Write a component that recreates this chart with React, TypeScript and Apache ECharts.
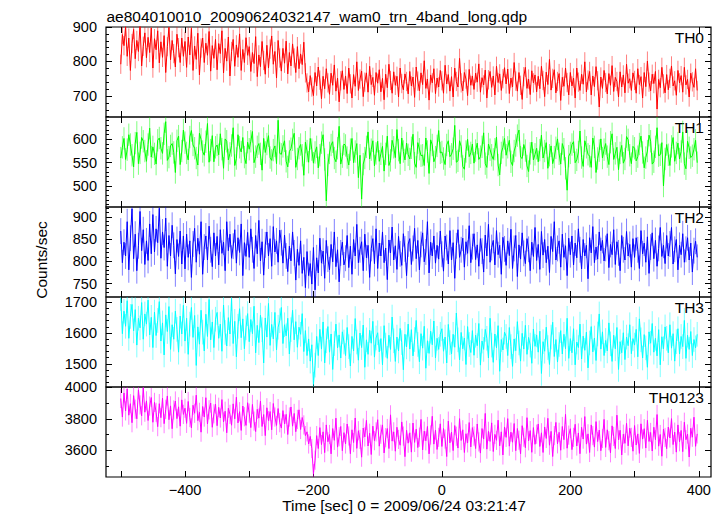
import React, { useEffect, useRef } from 'react';
import * as echarts from 'echarts';

// Time bins (sec) : t = T0 + DT * index
const T0 = -500;
const DT = 2.5;

const X_MIN = -523;
const X_MAX = 419;
const X_TICKS = [-500, -400, -300, -200, -100, 0, 100, 200, 300, 400];
const X_LABELS = [-400, -200, 0, 200, 400];

// Counts/sec (one row = 50 s)
const th0 = [
  792, 878, 846, 901, 815, 868, 774, 852, 893, 808, 861, 829, 906, 787, 844, 883, 811, 870, 826, 897,
  781, 866, 834, 889, 796, 857, 812, 875, 768, 843, 899, 805, 861, 823, 784, 879, 840, 797, 868, 815,
  858, 783, 871, 819, 896, 774, 845, 806, 882, 761, 839, 868, 797, 853, 818, 887, 772, 846, 809, 864,
  776, 852, 823, 889, 767, 838, 801, 871, 758, 829, 864, 786, 848, 812, 880, 774, 835, 797, 869, 818,
  843, 771, 826, 794, 872, 756, 819, 785, 858, 803, 763, 847, 781, 836, 874, 792, 829, 752, 861, 810,
  772, 838, 795, 859, 764, 826, 787, 851, 810, 768, 843, 779, 822, 791, 856, 767, 738, 712, 759, 726,
  701, 768, 729, 784, 746, 692, 757, 721, 779, 738, 705, 766, 731, 790, 714, 752, 683, 744, 773, 719,
  758, 707, 781, 735, 694, 762, 728, 799, 716, 749, 772, 698, 740, 767, 711, 786, 733, 754, 702, 768,
  737, 776, 712, 751, 689, 763, 724, 792, 745, 708, 770, 731, 757, 697, 781, 736, 718, 764, 742, 706,
  771, 729, 755, 696, 784, 743, 715, 767, 733, 802, 722, 749, 688, 761, 738, 779, 707, 752, 726, 774,
  744, 708, 789, 735, 762, 714, 756, 697, 781, 742, 726, 809, 738, 715, 768, 749, 701, 777, 731, 758,
  719, 766, 740, 793, 711, 753, 732, 775, 694, 747, 771, 725, 758, 703, 786, 739, 764, 716, 750, 782,
  735, 778, 707, 752, 726, 797, 743, 714, 768, 731, 690, 756, 783, 722, 749, 704, 773, 738, 761, 712,
  757, 721, 786, 745, 698, 769, 733, 806, 717, 751, 776, 709, 742, 765, 687, 754, 728, 781, 739, 703,
  768, 729, 752, 694, 781, 740, 716, 763, 734, 799, 712, 746, 771, 703, 758, 727, 785, 744, 668, 755,
  722, 774, 739, 706, 765, 731, 788, 713, 754, 742, 697, 770, 726, 761, 709, 792, 737, 750, 716, 767,
  745, 708, 779, 733, 756, 694, 768, 727, 801, 740, 715, 763, 736, 771, 662, 748, 724, 783, 735, 709,
  762, 718, 751, 787, 729, 744, 702, 774, 738, 759, 711, 783, 732, 748, 697, 766, 741, 725, 779, 716,
];
const th1 = [
  560, 583, 602, 557, 578, 610, 589, 566, 541, 592, 615, 548, 571, 604, 596, 575, 553, 589, 624, 562,
  584, 569, 547, 598, 603, 581, 570, 612, 638, 555, 562, 586, 591, 572, 529, 597, 607, 546, 575, 620,
  593, 571, 556, 605, 619, 588, 581, 560, 545, 613, 600, 574, 566, 595, 634, 551, 577, 608, 552, 583,
  588, 567, 612, 579, 538, 601, 596, 556, 570, 587, 625, 544, 559, 610, 583, 573, 604, 562, 548, 594,
  579, 596, 617, 550, 563, 584, 591, 569, 534, 602, 572, 590, 608, 561, 555, 577, 586, 548, 641, 570,
  568, 585, 597, 553, 541, 574, 580, 599, 613, 540, 558, 581, 589, 566, 523, 594, 575, 551, 602, 578,
  549, 572, 584, 539, 566, 593, 610, 557, 468, 545, 571, 588, 595, 560, 552, 581, 628, 547, 563, 590,
  587, 561, 545, 578, 602, 550, 574, 591, 518, 566, 472, 547, 560, 584, 616, 558, 578, 597, 543, 570,
  596, 553, 569, 585, 532, 569, 607, 544, 555, 598, 583, 561, 621, 577, 548, 603, 574, 556, 592, 567,
  558, 582, 611, 549, 540, 593, 579, 565, 566, 544, 603, 574, 527, 599, 588, 552, 562, 586, 619, 571,
  573, 559, 546, 588, 597, 563, 568, 580, 630, 551, 554, 597, 585, 542, 536, 574, 600, 563, 571, 590,
  549, 576, 592, 557, 563, 584, 614, 548, 540, 590, 578, 566, 557, 579, 605, 545, 524, 571, 583, 602,
  566, 583, 598, 552, 544, 575, 587, 608, 620, 562, 559, 589, 576, 543, 531, 570, 594, 556, 568, 581,
  552, 577, 609, 560, 575, 593, 538, 566, 586, 548, 562, 582, 601, 569, 547, 591, 579, 538, 491, 564,
  571, 589, 595, 550, 556, 573, 618, 561, 542, 597, 583, 568, 564, 540, 603, 584, 529, 559, 576, 601,
  560, 578, 591, 563, 546, 594, 612, 557, 570, 583, 535, 571, 587, 549, 558, 606, 599, 566, 548, 585,
  581, 554, 563, 590, 607, 572, 539, 561, 575, 609, 596, 547, 552, 584, 625, 565, 567, 593, 500, 558,
  589, 567, 544, 585, 604, 553, 571, 592, 558, 574, 616, 548, 537, 596, 582, 561, 565, 579, 598, 550,
];
const th2 = [
  868, 797, 843, 812, 889, 781, 852, 918, 806, 861, 779, 835, 912, 824, 871, 793, 846, 802, 884, 817,
  905, 821, 873, 842, 919, 807, 866, 831, 897, 789, 858, 812, 881, 836, 772, 849, 811, 868, 794, 857,
  783, 861, 809, 846, 764, 839, 874, 798, 852, 816, 889, 771, 832, 857, 803, 879, 826, 788, 864, 812,
  856, 792, 871, 818, 843, 779, 889, 824, 861, 807, 834, 871, 796, 853, 820, 884, 768, 842, 811, 865,
  809, 873, 826, 784, 858, 817, 892, 801, 844, 769, 837, 866, 812, 851, 789, 878, 821, 846, 798, 870,
  842, 796, 859, 812, 777, 834, 801, 866, 819, 758, 827, 791, 846, 773, 809, 741, 822, 768, 795, 749,
  831, 736, 808, 774, 852, 796, 823, 762, 847, 805, 781, 838, 799, 866, 788, 826, 754, 819, 843, 792,
  807, 858, 786, 834, 771, 849, 812, 883, 797, 826, 844, 779, 861, 808, 836, 764, 829, 851, 795, 873,
  784, 841, 812, 866, 797, 830, 759, 848, 819, 877, 803, 835, 782, 856, 817, 791, 862, 828, 768, 839,
  851, 793, 829, 874, 806, 847, 781, 838, 864, 799, 821, 889, 774, 843, 812, 857, 796, 836, 805, 868,
  816, 778, 857, 831, 794, 869, 803, 842, 762, 835, 871, 809, 826, 852, 787, 844, 818, 880, 797, 833,
  862, 804, 837, 789, 851, 823, 776, 859, 812, 883, 798, 831, 847, 792, 869, 815, 836, 771, 854, 828,
  791, 846, 813, 872, 784, 829, 858, 766, 837, 805, 864, 818, 795, 851, 827, 779, 843, 811, 876, 802,
  838, 782, 867, 814, 849, 797, 834, 775, 856, 822, 889, 803, 829, 846, 787, 861, 809, 835, 768, 852,
  815, 857, 792, 841, 808, 873, 826, 783, 849, 812, 836, 761, 853, 819, 878, 797, 832, 805, 866, 824,
  847, 801, 829, 862, 786, 838, 815, 871, 793, 844, 819, 779, 858, 826, 803, 867, 812, 838, 787, 851,
  809, 853, 826, 784, 869, 817, 841, 798, 855, 773, 832, 864, 806, 847, 789, 829, 876, 811, 836, 795,
  858, 812, 839, 876, 794, 827, 849, 781, 836, 815, 862, 798, 827, 853, 803, 841, 776, 824, 845, 809,
];
const th3 = [
  1712, 1598, 1671, 1622, 1705, 1583, 1654, 1693, 1607, 1676, 1561, 1648, 1617, 1699, 1580, 1662, 1629, 1707, 1594, 1651,
  1553, 1668, 1592, 1641, 1702, 1574, 1633, 1529, 1659, 1605, 1686, 1547, 1627, 1580, 1671, 1612, 1538, 1655, 1597, 1690,
  1574, 1648, 1531, 1629, 1683, 1586, 1657, 1495, 1620, 1564, 1674, 1603, 1542, 1661, 1589, 1709, 1578, 1636, 1553, 1645,
  1667, 1583, 1629, 1541, 1691, 1602, 1558, 1650, 1597, 1712, 1566, 1638, 1523, 1622, 1679, 1585, 1646, 1549, 1617, 1663,
  1572, 1644, 1598, 1687, 1536, 1625, 1569, 1658, 1611, 1503, 1649, 1587, 1696, 1560, 1628, 1581, 1667, 1545, 1619, 1640,
  1683, 1566, 1627, 1591, 1648, 1532, 1611, 1674, 1578, 1637, 1554, 1619, 1596, 1663, 1540, 1608, 1527, 1581, 1509, 1562,
  1434, 1496, 1589, 1527, 1612, 1548, 1636, 1503, 1575, 1621, 1538, 1597, 1482, 1566, 1629, 1552, 1594, 1519, 1604, 1571,
  1527, 1618, 1556, 1493, 1589, 1542, 1647, 1571, 1512, 1600, 1553, 1626, 1489, 1578, 1531, 1609, 1567, 1638, 1522, 1584,
  1601, 1539, 1582, 1497, 1624, 1561, 1518, 1593, 1547, 1652, 1575, 1508, 1587, 1542, 1615, 1569, 1481, 1596, 1555, 1629,
  1548, 1611, 1526, 1579, 1641, 1563, 1507, 1598, 1551, 1622, 1486, 1575, 1534, 1606, 1562, 1639, 1519, 1583, 1547, 1596,
  1614, 1541, 1587, 1503, 1628, 1569, 1532, 1596, 1554, 1665, 1578, 1513, 1602, 1549, 1584, 1498, 1621, 1563, 1537, 1608,
  1528, 1593, 1559, 1631, 1496, 1574, 1547, 1612, 1583, 1519, 1648, 1561, 1505, 1597, 1552, 1624, 1476, 1579, 1545, 1603,
  1589, 1527, 1618, 1556, 1492, 1581, 1543, 1637, 1568, 1509, 1599, 1548, 1625, 1531, 1586, 1561, 1502, 1613, 1557, 1594,
  1538, 1606, 1469, 1572, 1541, 1619, 1553, 1498, 1587, 1635, 1524, 1579, 1506, 1563, 1608, 1532, 1596, 1549, 1648, 1518,
  1582, 1536, 1614, 1497, 1571, 1553, 1629, 1516, 1590, 1544, 1603, 1487, 1568, 1621, 1539, 1584, 1511, 1597, 1662, 1548,
  1604, 1527, 1576, 1542, 1633, 1565, 1508, 1593, 1549, 1618, 1482, 1572, 1536, 1601, 1514, 1587, 1559, 1627, 1533, 1582,
  1561, 1612, 1523, 1646, 1578, 1519, 1595, 1552, 1489, 1604, 1567, 1631, 1538, 1583, 1526, 1611, 1497, 1588, 1549, 1620,
  1583, 1536, 1627, 1551, 1598, 1509, 1572, 1614, 1532, 1589, 1556, 1641, 1518, 1593, 1547, 1605, 1527, 1579, 1552, 1596,
];
const th0123 = [
  3930, 3812, 3965, 3851, 3990, 3824, 3897, 3776, 3948, 3862, 3801, 3985, 3889, 3820, 3998, 3843, 3915, 3790, 3882, 3936,
  3779, 3905, 3842, 3751, 3897, 3808, 3932, 3770, 3861, 3946, 3795, 3883, 3738, 3857, 3914, 3802, 3877, 3754, 3921, 3829,
  3868, 3772, 3911, 3809, 3743, 3887, 3836, 3951, 3789, 3842, 3716, 3879, 3812, 3935, 3768, 3858, 3901, 3747, 3833, 3894,
  3757, 3874, 3806, 3923, 3781, 3849, 3712, 3868, 3829, 3760, 3896, 3801, 3938, 3775, 3846, 3727, 3882, 3814, 3759, 3903,
  3837, 3745, 3892, 3786, 3720, 3861, 3805, 3913, 3752, 3828, 3694, 3871, 3789, 3847, 3731, 3898, 3812, 3759, 3866, 3776,
  3742, 3853, 3768, 3829, 3701, 3812, 3876, 3754, 3835, 3719, 3797, 3858, 3733, 3809, 3762, 3694, 3718, 3641, 3689, 3612,
  3452, 3538, 3694, 3612, 3745, 3637, 3718, 3586, 3762, 3655, 3701, 3578, 3739, 3664, 3805, 3621, 3687, 3752, 3598, 3713,
  3641, 3768, 3692, 3579, 3731, 3650, 3806, 3613, 3725, 3670, 3557, 3742, 3686, 3791, 3628, 3709, 3574, 3754, 3662, 3718,
  3795, 3627, 3703, 3762, 3584, 3681, 3739, 3612, 3826, 3659, 3718, 3595, 3747, 3670, 3633, 3781, 3691, 3560, 3728, 3646,
  3712, 3589, 3774, 3651, 3735, 3618, 3684, 3797, 3603, 3722, 3661, 3752, 3578, 3698, 3817, 3640, 3729, 3606, 3683, 3769,
  3625, 3739, 3672, 3561, 3786, 3648, 3717, 3599, 3758, 3690, 3615, 3802, 3663, 3731, 3587, 3706, 3648, 3777, 3622, 3745,
  3691, 3612, 3768, 3654, 3583, 3739, 3672, 3835, 3608, 3721, 3657, 3775, 3593, 3702, 3664, 3792, 3629, 3718, 3571, 3749,
  3683, 3802, 3627, 3716, 3652, 3771, 3598, 3739, 3665, 3579, 3757, 3684, 3617, 3808, 3661, 3726, 3588, 3745, 3639, 3703,
  3768, 3625, 3712, 3587, 3749, 3676, 3804, 3633, 3721, 3561, 3694, 3778, 3642, 3715, 3601, 3752, 3668, 3829, 3614, 3697,
  3738, 3605, 3683, 3766, 3628, 3711, 3579, 3747, 3672, 3815, 3640, 3705, 3587, 3762, 3694, 3621, 3783, 3656, 3729, 3598,
  3676, 3797, 3619, 3731, 3662, 3585, 3756, 3689, 3612, 3824, 3667, 3728, 3571, 3703, 3645, 3772, 3629, 3741, 3683, 3595,
  3758, 3634, 3705, 3581, 3769, 3672, 3738, 3615, 3791, 3657, 3714, 3596, 3747, 3668, 3828, 3627, 3701, 3563, 3736, 3682,
  3611, 3748, 3679, 3802, 3637, 3716, 3589, 3762, 3655, 3727, 3592, 3779, 3668, 3704, 3558, 3741, 3684, 3811, 3626, 3705,
];

// 1-sigma error half-widths (counts/sec)
const ERR_TH0 = 28;
const ERR_TH1 = 24;
const ERR_TH2 = 29;
const ERR_TH3 = 40;
const ERR_TH0123 = 61;

// y-axis ticks per panel
const TH0_MAJOR = [700, 800, 900];
const TH0_MINOR = [640, 660, 680, 720, 740, 760, 780, 820, 840, 860, 880];
const TH1_MAJOR = [500, 550, 600];
const TH1_MINOR = [460, 470, 480, 490, 510, 520, 530, 540, 560, 570, 580, 590, 610, 620, 630, 640];
const TH2_MAJOR = [750, 800, 850, 900];
const TH2_MINOR = [730, 740, 760, 770, 780, 790, 810, 820, 830, 840, 860, 870, 880, 890, 910, 920];
const TH3_MAJOR = [1500, 1600, 1700];
const TH3_MINOR = [1440, 1460, 1480, 1520, 1540, 1560, 1580, 1620, 1640, 1660, 1680];
const TH0123_MAJOR = [3600, 3800, 4000];
const TH0123_MINOR = [3500, 3700, 3900];

const panels = [
  { name: 'TH0', values: th0, err: ERR_TH0, color: '#ff0000', min: 639, max: 900, major: TH0_MAJOR, minor: TH0_MINOR },
  { name: 'TH1', values: th1, err: ERR_TH1, color: '#00ff00', min: 455, max: 648, major: TH1_MAJOR, minor: TH1_MINOR },
  { name: 'TH2', values: th2, err: ERR_TH2, color: '#0000ff', min: 720, max: 922, major: TH2_MAJOR, minor: TH2_MINOR },
  { name: 'TH3', values: th3, err: ERR_TH3, color: '#00ffff', min: 1425, max: 1717, major: TH3_MAJOR, minor: TH3_MINOR },
  { name: 'TH0123', values: th0123, err: ERR_TH0123, color: '#ff00ff', min: 3431, max: 4003, major: TH0123_MAJOR, minor: TH0123_MINOR },
];

const FONT = "'Liberation Sans', Arial, Helvetica, sans-serif";
const fmtX = (v: number) => (v < 0 ? '\u2212' + Math.abs(v) : String(v));
const fmtY = (v: number) => String(v);

export default function App() {
  const ref = useRef<HTMLDivElement>(null);
  useEffect(() => {
    const chart = echarts.init(ref.current!, null, { renderer: 'svg' });
    const PANEL_TOP = 27;
    const PANEL_H = 90;
    const grid: any[] = [];
    const xAxis: any[] = [];
    const yAxis: any[] = [];
    const series: any[] = [];
    const graphic: any[] = [];
    const tickLine = { color: '#000', width: 1 };
    const noLine = { show: false, onZero: false };

    panels.forEach((p, i) => {
      const top = PANEL_TOP + PANEL_H * i;
      grid.push({
        left: 106, right: 13, top, height: PANEL_H,
        show: true, borderColor: '#000', borderWidth: 1.2, backgroundColor: 'transparent',
      });
      const xBase = {
        type: 'value', gridIndex: i, min: X_MIN, max: X_MAX,
        axisLine: noLine, splitLine: { show: false },
        axisTick: { show: true, inside: true, length: 6, customValues: X_TICKS, lineStyle: tickLine },
      };
      xAxis.push({
        ...xBase, position: 'bottom',
        axisLabel: i === panels.length - 1
          ? { show: true, customValues: X_LABELS, formatter: fmtX, margin: 5, fontSize: 14.5, color: '#000', fontFamily: FONT }
          : { show: false },
      });
      xAxis.push({ ...xBase, position: 'top', axisLabel: { show: false } });

      const yBase = {
        type: 'value', gridIndex: i, min: p.min, max: p.max,
        axisLine: noLine, splitLine: { show: false },
      };
      const majorTick = { show: true, inside: true, length: 6, customValues: p.major, lineStyle: tickLine };
      const minorTick = { show: true, inside: true, length: 3, customValues: p.minor, lineStyle: tickLine };
      yAxis.push({
        ...yBase, position: 'left', axisTick: majorTick,
        axisLabel: { show: true, customValues: p.major, formatter: fmtY, margin: 9, fontSize: 14.5, color: '#000', fontFamily: FONT },
      });
      yAxis.push({ ...yBase, position: 'right', axisTick: majorTick, axisLabel: { show: false } });
      yAxis.push({ ...yBase, position: 'left', axisTick: minorTick, axisLabel: { show: false } });
      yAxis.push({ ...yBase, position: 'right', axisTick: minorTick, axisLabel: { show: false } });

      const data = p.values.map((v, k) => [T0 + DT * k, v]);
      const err = p.err;
      const color = p.color;
      series.push({
        type: 'custom', xAxisIndex: 2 * i, yAxisIndex: 4 * i, data, clip: true, silent: true,
        renderItem: (_params: any, api: any) => {
          const x = api.value(0);
          const y = api.value(1);
          const a = api.coord([x, y - err]);
          const b = api.coord([x, y + err]);
          return {
            type: 'line',
            shape: { x1: a[0], y1: a[1], x2: b[0], y2: b[1] },
            style: { stroke: color, lineWidth: 1, opacity: 0.5 },
          };
        },
      });
      series.push({
        type: 'line', xAxisIndex: 2 * i, yAxisIndex: 4 * i, data,
        showSymbol: false, symbol: 'none', clip: true, silent: true,
        lineStyle: { color, width: 1 }, itemStyle: { color },
      });
      graphic.push({
        type: 'text', x: 704, y: top + 10.5,
        style: { text: p.name, fontSize: 15.5, fontFamily: FONT, fill: '#000', align: 'right', verticalAlign: 'middle' },
      });
    });

    graphic.push({
      type: 'text', x: 106.5, y: 16,
      style: { text: 'ae804010010_20090624032147_wam0_trn_4band_long.qdp', fontSize: 15.5, fontFamily: FONT, fill: '#000', align: 'left', verticalAlign: 'middle' },
    });
    graphic.push({
      type: 'text', x: 404, y: 505,
      style: { text: 'Time [sec] 0 = 2009/06/24 03:21:47', fontSize: 15.5, fontFamily: FONT, fill: '#000', align: 'center', verticalAlign: 'middle' },
    });
    graphic.push({
      type: 'text', x: 41, y: 260, rotation: Math.PI / 2,
      style: { text: 'Counts/sec', fontSize: 15.5, fontFamily: FONT, fill: '#000', align: 'center', verticalAlign: 'middle' },
    });

    chart.setOption({
      animation: false,
      backgroundColor: '#fff',
      grid, xAxis, yAxis, series, graphic,
    });
    return () => chart.dispose();
  }, []);

  return (
    <div
      ref={ref}
      style={{ position: 'fixed', left: 0, top: 0, width: 724, height: 516, background: '#fff' }}
    />
  );
}
